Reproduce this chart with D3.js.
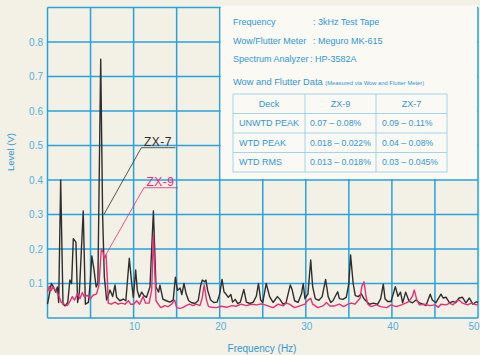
<!DOCTYPE html>
<html>
<head>
<meta charset="utf-8">
<script src="https://cdn.jsdelivr.net/npm/d3@7"></script>
<style>
  html, body { margin: 0; padding: 0; background: #f3f0e5; }
  svg { display: block; font-family: "Liberation Sans", Arial, sans-serif; }
</style>
</head>
<body>
<div id="chart"></div>
<script>
// spectrum of the wow & flutter signal, [frequency Hz, level V]
var zx7 = [
  [0, 0.04], [0.45, 0.1], [0.7, 0.09], [0.95, 0.075], [1.15, 0.09], [1.3, 0.045], [1.53, 0.40],
  [1.8, 0.04], [2.05, 0.035], [2.35, 0.045], [2.6, 0.11], [2.8, 0.10], [3.0, 0.23], [3.3, 0.22],
  [3.5, 0.045], [3.7, 0.075], [4.15, 0.31], [4.4, 0.04], [4.75, 0.045], [4.95, 0.1], [5.15, 0.18],
  [5.4, 0.14], [5.65, 0.09], [5.85, 0.1], [6.18, 0.75], [6.4, 0.30], [6.6, 0.12], [6.87, 0.052],
  [7.26, 0.081], [7.57, 0.062], [7.84, 0.096], [8.03, 0.06], [8.4, 0.05], [8.8, 0.055], [9.1, 0.05],
  [9.5, 0.173], [9.78, 0.1], [9.97, 0.06], [10.24, 0.139], [10.43, 0.08], [10.66, 0.06], [10.94, 0.075],
  [11.2, 0.065], [11.5, 0.06], [11.9, 0.09], [12.3, 0.31], [12.6, 0.09], [12.9, 0.075], [13.06, 0.095],
  [13.4, 0.055], [13.8, 0.05], [14.2, 0.046], [14.6, 0.052], [14.85, 0.118], [15.1, 0.08], [15.4, 0.087],
  [15.6, 0.068], [15.85, 0.1], [16.1, 0.07], [16.4, 0.05], [16.7, 0.045], [17.1, 0.042], [17.5, 0.05],
  [17.8, 0.095], [17.98, 0.11], [18.25, 0.105], [18.4, 0.11], [18.6, 0.08], [18.95, 0.052], [19.3, 0.045],
  [19.7, 0.046], [20.0, 0.07], [20.27, 0.112], [20.5, 0.076], [20.77, 0.068], [21.0, 0.06], [21.3, 0.068],
  [21.5, 0.046], [21.8, 0.054], [22.1, 0.042], [22.4, 0.046], [22.8, 0.083], [23.1, 0.046], [23.5, 0.042],
  [23.9, 0.046], [24.25, 0.063], [24.5, 0.1], [24.76, 0.052], [25.0, 0.045], [25.4, 0.1], [25.8, 0.062],
  [26.2, 0.045], [26.7, 0.062], [27.0, 0.054], [27.35, 0.04], [27.7, 0.044], [28.2, 0.096], [28.4, 0.083],
  [28.7, 0.05], [29.1, 0.045], [29.5, 0.07], [29.7, 0.1], [29.9, 0.056], [30.25, 0.07], [30.57, 0.168],
  [30.8, 0.09], [31.1, 0.056], [31.5, 0.051], [31.9, 0.062], [32.3, 0.112], [32.6, 0.062], [32.9, 0.045],
  [33.15, 0.05], [33.7, 0.076], [33.9, 0.056], [34.3, 0.054], [34.7, 0.06], [35.0, 0.1], [35.2, 0.183],
  [35.5, 0.1], [35.75, 0.065], [36.1, 0.062], [36.45, 0.07], [36.75, 0.056], [37.1, 0.047], [37.4, 0.04],
  [37.85, 0.043], [38.35, 0.04], [38.7, 0.056], [39.0, 0.098], [39.2, 0.056], [39.5, 0.048], [39.9, 0.048],
  [40.4, 0.091], [40.7, 0.063], [41.0, 0.075], [41.25, 0.044], [41.6, 0.075], [42.0, 0.048], [42.4, 0.044],
  [42.8, 0.052], [43.2, 0.044], [43.6, 0.04], [43.96, 0.036], [44.45, 0.069], [44.7, 0.052], [45.1, 0.044],
  [45.7, 0.069], [45.95, 0.058], [46.3, 0.06], [46.7, 0.044], [47.1, 0.048], [47.4, 0.044], [47.8, 0.058],
  [48.2, 0.06], [48.6, 0.044], [49.0, 0.058], [49.4, 0.04], [49.8, 0.047], [50, 0.045]
];
var zx9 = [
  [0, 0.075], [0.2, 0.092], [0.45, 0.08], [0.6, 0.091], [0.95, 0.08], [1.3, 0.065], [1.6, 0.045],
  [1.9, 0.04], [2.3, 0.036], [2.6, 0.048], [2.88, 0.062], [3.15, 0.052], [3.46, 0.07], [3.77, 0.056],
  [4.04, 0.074], [4.3, 0.06], [4.6, 0.066], [5.0, 0.056], [5.3, 0.066], [5.7, 0.07], [5.98, 0.096],
  [6.25, 0.2], [6.45, 0.19], [6.56, 0.173], [6.8, 0.183], [6.95, 0.11], [7.06, 0.043], [7.4, 0.04],
  [7.84, 0.046], [8.2, 0.04], [8.6, 0.043], [9.0, 0.04], [9.4, 0.05], [9.66, 0.04], [10.0, 0.04],
  [10.35, 0.05], [10.7, 0.04], [11.1, 0.062], [11.4, 0.043], [11.8, 0.043], [12.1, 0.081], [12.3, 0.24],
  [12.6, 0.05], [13.0, 0.035], [13.2, 0.03], [13.6, 0.036], [14.0, 0.033], [14.4, 0.04], [14.77, 0.052],
  [15.0, 0.03], [15.35, 0.028], [15.7, 0.03], [16.1, 0.036], [16.5, 0.04], [16.9, 0.036], [17.3, 0.04],
  [17.7, 0.036], [17.95, 0.056], [18.2, 0.096], [18.45, 0.054], [18.7, 0.033], [19.1, 0.031], [19.6, 0.03],
  [20.2, 0.034], [20.8, 0.031], [21.4, 0.036], [21.9, 0.034], [22.5, 0.04], [23.1, 0.036], [23.7, 0.04],
  [24.3, 0.038], [24.8, 0.041], [25.0, 0.04], [25.6, 0.035], [26.2, 0.03], [26.8, 0.04], [27.35, 0.035],
  [27.7, 0.043], [28.1, 0.04], [28.7, 0.03], [29.3, 0.035], [29.9, 0.04], [30.25, 0.052], [30.57, 0.057],
  [30.8, 0.04], [31.4, 0.03], [32.0, 0.035], [32.4, 0.045], [32.8, 0.035], [33.35, 0.035], [33.9, 0.04],
  [34.4, 0.033], [34.9, 0.04], [35.3, 0.043], [35.7, 0.04], [36.3, 0.057], [36.5, 0.091], [36.76, 0.105],
  [37.0, 0.062], [37.2, 0.04], [37.6, 0.033], [38.2, 0.038], [38.7, 0.033], [39.4, 0.03], [39.9, 0.038],
  [40.5, 0.033], [41.1, 0.038], [41.6, 0.043], [42.0, 0.048], [42.4, 0.064], [42.6, 0.081], [42.9, 0.052],
  [43.2, 0.038], [43.8, 0.04], [44.4, 0.036], [45.0, 0.038], [45.4, 0.031], [45.7, 0.04], [46.3, 0.038],
  [46.7, 0.043], [47.1, 0.038], [47.4, 0.048], [47.8, 0.052], [48.2, 0.043], [48.8, 0.038], [49.2, 0.043],
  [49.8, 0.038], [50, 0.04]
];

var xTicks = [10, 20, 30, 40, 50];
var yTicks = [0.1, 0.2, 0.3, 0.4, 0.5, 0.6, 0.7, 0.8];

var infoLabels = ["Frequency", "Wow/Flutter Meter", "Spectrum Analyzer"];
var infoValues = [": 3kHz Test Tape", ": Meguro MK-615", ": HP-3582A"];

var tableHead = ["Deck", "ZX-9", "ZX-7"];
var tableRows = ["UNWTD PEAK", "WTD PEAK", "WTD RMS"];
var zx9Range = ["0.07 \u2013 0.08%", "0.018 \u2013 0.022%", "0.013 \u2013 0.018%"];
var zx7Range = ["0.09 \u2013 0.11%", "0.04 \u2013 0.08%", "0.03 \u2013 0.045%"];

var width = 480,
    height = 355,
    blue = "#27a2dc",
    textBlue = "#2f98d6",
    pink = "#e5307a",
    dark = "#2e2e2e";

var x = d3.scaleLinear().domain([0, 50]).range([47.5, 478]);
var y = d3.scaleLinear().domain([0, 0.9]).range([318, 7.5]);

var svg = d3.select("#chart").append("svg")
    .attr("width", width)
    .attr("height", height);

svg.append("rect").attr("width", width).attr("height", height).attr("fill", "#f3f0e5");

// grid
var grid = svg.append("g").attr("class", "grid");
grid.selectAll(".vx").data(d3.range(0, 51, 5)).enter()
    .append("line")
    .attr("x1", function (d) { return x(d); })
    .attr("x2", function (d) { return x(d); })
    .attr("y1", y(0.9))
    .attr("y2", y(0))
    .attr("stroke", blue)
    .attr("stroke-width", 1.5);
grid.selectAll(".hy").data(d3.range(0, 10).map(function (i) { return i / 10; })).enter()
    .append("line")
    .attr("x1", x(0))
    .attr("x2", x(50))
    .attr("y1", function (d) { return y(d); })
    .attr("y2", function (d) { return y(d); })
    .attr("stroke", blue)
    .attr("stroke-width", 1.5);

// info panel covering the upper right part of the grid
svg.append("rect")
    .attr("x", x(20) + 1)
    .attr("y", y(0.9) - 2)
    .attr("width", x(50) - x(20) - 2)
    .attr("height", y(0.4) - y(0.9) + 1)
    .attr("fill", "#faf9f4");

var info = svg.append("g").attr("fill", textBlue).style("font-size", "9px");
info.selectAll(".lab").data(infoLabels).enter()
    .append("text")
    .attr("x", 233)
    .attr("y", function (d, i) { return 25 + i * 18.5; })
    .text(function (d) { return d; });
info.selectAll(".val").data(infoValues).enter()
    .append("text")
    .attr("x", function (d, i) { return i == 2 ? 310 : 313; })
    .attr("y", function (d, i) { return 25 + i * 18.5; })
    .text(function (d) { return d; });

var title = info.append("text").attr("x", 233).attr("y", 85);
title.append("tspan").style("font-size", "9.3px").text("Wow and Flutter Data ");
title.append("tspan").style("font-size", "5.8px").text("(Measured via Wow and Flutter Meter)");

// table
var colX = [233, 305, 376, 447],
    rowY = [94, 113.5, 133, 152.5, 172];
var table = svg.append("g");
table.selectAll(".rl").data(rowY).enter()
    .append("line")
    .attr("x1", colX[0]).attr("x2", colX[3])
    .attr("y1", function (d) { return d; }).attr("y2", function (d) { return d; })
    .attr("stroke", "#8ccbea").attr("stroke-width", 0.8);
table.selectAll(".cl").data(colX).enter()
    .append("line")
    .attr("x1", function (d) { return d; }).attr("x2", function (d) { return d; })
    .attr("y1", rowY[0]).attr("y2", rowY[4])
    .attr("stroke", "#8ccbea").attr("stroke-width", 0.8);
table.selectAll(".hd").data(tableHead).enter()
    .append("text")
    .attr("x", function (d, i) { return (colX[i] + colX[i + 1]) / 2; })
    .attr("y", 106.5)
    .attr("text-anchor", "middle")
    .attr("fill", textBlue)
    .style("font-size", "9px")
    .text(function (d) { return d; });
table.selectAll(".rn").data(tableRows).enter()
    .append("text")
    .attr("x", 239)
    .attr("y", function (d, i) { return 126 + i * 19.5; })
    .attr("fill", textBlue)
    .style("font-size", "9px")
    .text(function (d) { return d; });
table.selectAll(".v9").data(zx9Range).enter()
    .append("text")
    .attr("x", 310)
    .attr("y", function (d, i) { return 126 + i * 19.5; })
    .attr("fill", textBlue)
    .style("font-size", "8.7px")
    .text(function (d) { return d; });
table.selectAll(".v7").data(zx7Range).enter()
    .append("text")
    .attr("x", 382)
    .attr("y", function (d, i) { return 126 + i * 19.5; })
    .attr("fill", textBlue)
    .style("font-size", "8.7px")
    .text(function (d) { return d; });

// traces
var line = d3.line()
    .x(function (d) { return x(d[0]); })
    .y(function (d) { return y(d[1]); });

svg.append("path").datum(zx7)
    .attr("d", line)
    .attr("fill", "none")
    .attr("stroke", dark)
    .attr("stroke-width", 1.4)
    .attr("stroke-linejoin", "round");
svg.append("path").datum(zx9)
    .attr("d", line)
    .attr("fill", "none")
    .attr("stroke", pink)
    .attr("stroke-width", 1.4)
    .attr("stroke-linejoin", "round");

// callouts
function callout(label, color, tx, ty, px, pv) {
    var g = svg.append("g");
    g.append("text")
        .attr("x", x(tx))
        .attr("y", y(ty))
        .attr("fill", color)
        .style("font-size", "12px")
        .style("letter-spacing", "0.5px")
        .text(label);
    g.append("path")
        .attr("d", "M" + x(tx - 0.3) + "," + (y(ty) + 1.5) + "h" + 34 +
            "M" + x(tx - 0.3) + "," + (y(ty) + 1.5) + "L" + x(px) + "," + y(pv))
        .attr("fill", "none")
        .attr("stroke", color)
        .attr("stroke-width", 0.8);
}
callout("ZX-7", dark, 11.2, 0.498, 6.55, 0.3);
callout("ZX-9", pink, 11.5, 0.382, 6.7, 0.18);

// tick labels (the last one is pulled in so it stays on the page)
svg.selectAll(".xt").data(xTicks).enter()
    .append("text")
    .attr("x", function (d, i) { return i == xTicks.length - 1 ? width - 0.5 : x(d) + 1; })
    .attr("y", 330)
    .attr("text-anchor", function (d, i) { return i == xTicks.length - 1 ? "end" : "middle"; })
    .attr("fill", "#4fb0e0")
    .style("font-size", "10px")
    .text(function (d) { return d; });
svg.selectAll(".yt").data(yTicks).enter()
    .append("text")
    .attr("x", 43)
    .attr("y", function (d) { return y(d) + 3.5; })
    .attr("text-anchor", "end")
    .attr("fill", "#4fb0e0")
    .style("font-size", "10px")
    .text(function (d) { return d3.format(".1f")(d); });

// axis titles
svg.append("text")
    .attr("transform", "translate(14,152) rotate(-90)")
    .attr("text-anchor", "middle")
    .attr("fill", textBlue)
    .style("font-size", "9.5px")
    .text("Level (V)");
svg.append("text")
    .attr("x", 262)
    .attr("y", 352)
    .attr("text-anchor", "middle")
    .attr("fill", textBlue)
    .style("font-size", "10px")
    .text("Frequency (Hz)");
</script>
</body>
</html>
